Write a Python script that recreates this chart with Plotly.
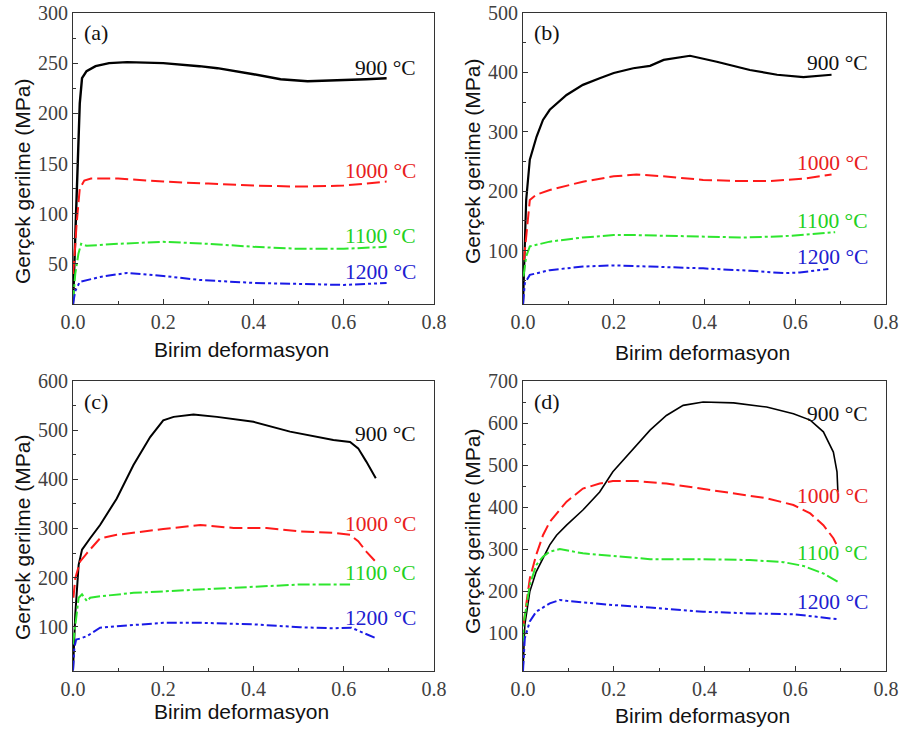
import plotly.graph_objects as go

W, H = 899, 729

# ---------------- data ----------------
# Panel (a)
a900_x = [0, 0.005, 0.01, 0.015, 0.02, 0.03, 0.05, 0.08, 0.12, 0.2, 0.28, 0.32, 0.4, 0.46, 0.52, 0.6, 0.65, 0.695]
a900_y = [10, 80, 150, 210, 235, 242, 247, 250, 251, 250, 247, 245, 239, 234, 232, 233, 234, 235]
a1000_x = [0, 0.003, 0.008, 0.015, 0.025, 0.04, 0.1, 0.2, 0.3, 0.4, 0.5, 0.6, 0.695]
a1000_y = [40, 55, 90, 125, 133, 135, 135, 132, 130, 128, 127, 128, 132]
a1100_x = [0, 0.005, 0.012, 0.018, 0.03, 0.1, 0.2, 0.3, 0.4, 0.5, 0.6, 0.695]
a1100_y = [12, 40, 60, 70, 68, 70, 72, 70, 67, 65, 65, 67]
a1200_x = [0, 0.005, 0.015, 0.06, 0.12, 0.2, 0.28, 0.4, 0.5, 0.6, 0.695]
a1200_y = [10, 23, 32, 37, 41, 38, 34, 31, 30, 29, 31]

# Panel (b)
b900_x = [0, 0.007, 0.015, 0.03, 0.044, 0.059, 0.096, 0.132, 0.169, 0.2, 0.243, 0.28, 0.31, 0.353, 0.368, 0.427, 0.5, 0.56, 0.618, 0.68]
b900_y = [10, 185, 253, 292, 320, 337, 362, 379, 390, 399, 407, 411, 421, 427, 428, 418, 404, 396, 392, 396]
b1000_x = [0.002, 0.011, 0.015, 0.029, 0.059, 0.132, 0.2, 0.25, 0.309, 0.397, 0.471, 0.545, 0.618, 0.68]
b1000_y = [84, 163, 185, 194, 202, 216, 225, 228, 225, 219, 217, 217, 221, 228]
b1100_x = [0.001, 0.007, 0.015, 0.059, 0.132, 0.2, 0.25, 0.397, 0.486, 0.574, 0.688]
b1100_y = [56, 90, 107, 115, 122, 126, 126, 124, 122, 124, 131]
b1200_x = [0, 0.004, 0.015, 0.059, 0.132, 0.2, 0.28, 0.397, 0.5, 0.574, 0.61, 0.673]
b1200_y = [10, 45, 59, 67, 73, 75, 73, 70, 66, 62, 63, 69]

# Panel (c)
c900_x = [0, 0.005, 0.0125, 0.02, 0.038, 0.06, 0.097, 0.134, 0.171, 0.2, 0.223, 0.267, 0.319, 0.4, 0.481, 0.547, 0.577, 0.614, 0.632, 0.65, 0.671]
c900_y = [11, 125, 226, 257, 280, 307, 361, 429, 486, 520, 527, 532, 527, 517, 497, 486, 480, 476, 463, 436, 402]
c1000_x = [0.001, 0.005, 0.016, 0.031, 0.06, 0.097, 0.2, 0.282, 0.356, 0.429, 0.503, 0.577, 0.614, 0.632, 0.65, 0.673]
c1000_y = [159, 199, 233, 250, 280, 287, 299, 307, 301, 301, 294, 291, 287, 274, 253, 230]
c1100_x = [0, 0.005, 0.0125, 0.02, 0.031, 0.038, 0.06, 0.134, 0.2, 0.282, 0.4, 0.503, 0.614]
c1100_y = [64, 105, 159, 166, 152, 159, 162, 169, 172, 176, 182, 186, 186]
c1200_x = [0, 0.003, 0.007, 0.016, 0.031, 0.06, 0.097, 0.2, 0.282, 0.4, 0.503, 0.577, 0.617, 0.636, 0.673]
c1200_y = [11, 57, 74, 76, 81, 98, 101, 108, 108, 105, 99, 97, 98, 91, 76]

# Panel (d)
d900_x = [0, 0.004, 0.015, 0.029, 0.044, 0.059, 0.074, 0.096, 0.132, 0.169, 0.198, 0.243, 0.28, 0.316, 0.353, 0.397, 0.464, 0.537, 0.596, 0.633, 0.662, 0.684, 0.692, 0.694]
d900_y = [10, 120, 199, 246, 278, 310, 333, 357, 393, 436, 484, 539, 583, 618, 642, 650, 648, 638, 622, 607, 579, 531, 484, 436]
d1000_x = [0.001, 0.015, 0.029, 0.044, 0.059, 0.096, 0.132, 0.169, 0.198, 0.250, 0.316, 0.397, 0.464, 0.537, 0.596, 0.633, 0.662, 0.684, 0.695]
d1000_y = [120, 230, 286, 333, 365, 413, 444, 456, 462, 462, 456, 443, 432, 421, 405, 385, 357, 326, 302]
d1100_x = [0, 0.001, 0.015, 0.029, 0.044, 0.059, 0.081, 0.096, 0.132, 0.198, 0.28, 0.397, 0.5, 0.574, 0.618, 0.662, 0.699]
d1100_y = [80, 120, 215, 262, 282, 294, 300, 297, 290, 284, 276, 276, 274, 269, 260, 242, 219]
d1200_x = [0, 0.004, 0.015, 0.029, 0.059, 0.081, 0.096, 0.132, 0.198, 0.28, 0.397, 0.5, 0.596, 0.647, 0.695]
d1200_y = [10, 88, 128, 151, 171, 179, 177, 173, 167, 161, 151, 147, 145, 139, 133]

temps = ["900 °C", "1000 °C", "1100 °C", "1200 °C"]
panel_letters = ["(a)", "(b)", "(c)", "(d)"]
y_max = [300, 500, 600, 700]
y_dtick = [50, 100, 100, 100]
label_y = [
    [245, 143, 78, 42],
    [416, 248, 149, 89],
    [493, 309, 209, 118],
    [622, 426, 290, 173],
]

panels = [
    [(a900_x, a900_y), (a1000_x, a1000_y), (a1100_x, a1100_y), (a1200_x, a1200_y)],
    [(b900_x, b900_y), (b1000_x, b1000_y), (b1100_x, b1100_y), (b1200_x, b1200_y)],
    [(c900_x, c900_y), (c1000_x, c1000_y), (c1100_x, c1100_y), (c1200_x, c1200_y)],
    [(d900_x, d900_y), (d1000_x, d1000_y), (d1100_x, d1100_y), (d1200_x, d1200_y)],
]

# ---------------- styles ----------------
line_colors = ["#000000", "#ff1a1a", "#2ee62e", "#1a1ae6"]
text_colors = ["#111111", "#e82020", "#22d022", "#2020d0"]
dashes = ["solid", "13px,5px", "12px,3px,3px,3px", "10px,3px,3px,3px,3px,3px"]
black_w = [2.4, 2.2, 2.0, 1.6]

# pixel boxes of plot areas: (left, right, top, bottom)
boxes = [(73, 434, 13, 304), (523, 886, 13, 304), (73, 434, 381, 671), (523, 886, 381, 671)]
xt_pos = [(242, 349), (702, 352), (242, 711), (702, 715)]
yt_pos = [(22, 182), (472, 162), (22, 538), (472, 532)]
letter_frac = [0.934, 0.934, 0.928, 0.928]

fig = go.Figure()
annotations = []
layout = {}

for i in range(4):
    sfx = "" if i == 0 else str(i + 1)
    xa, ya = "x" + sfx, "y" + sfx
    for j in range(4):
        xs, ys = panels[i][j]
        w = black_w[i] if j == 0 else 2.0
        fig.add_trace(go.Scatter(x=xs, y=ys, mode="lines", xaxis=xa, yaxis=ya,
                                 line=dict(color=line_colors[j], width=w, dash=dashes[j]),
                                 showlegend=False, hoverinfo="skip"))
        annotations.append(dict(x=0.765, y=label_y[i][j], xref=xa, yref=ya,
                                text=temps[j], showarrow=False, xanchor="right", yanchor="middle",
                                font=dict(family="Liberation Serif", size=21.5, color=text_colors[j])))
    l, r, t, b = boxes[i]
    axis_common = dict(showline=True, linecolor="#333333", linewidth=1, mirror=True,
                       ticks="inside", ticklen=5, tickwidth=1, tickcolor="#333333",
                       showgrid=False, zeroline=False, automargin=False,
                       tickfont=dict(family="Liberation Serif", size=20, color="#404040"))
    layout["xaxis" + sfx] = dict(axis_common, domain=[l / W, r / W], range=[0, 0.8],
                                 tick0=0, dtick=0.2, tickformat=".1f", anchor=ya,
                                 minor=dict(ticks="inside", ticklen=3, dtick=0.1, tickcolor="#333333"))
    layout["yaxis" + sfx] = dict(axis_common, domain=[1 - b / H, 1 - t / H], range=[10, y_max[i]],
                                 tick0=0, dtick=y_dtick[i], anchor=xa,
                                 minor=dict(ticks="inside", ticklen=3, dtick=y_dtick[i] / 2, tickcolor="#333333"))
    annotations.append(dict(x=0.02, y=(y_max[i] - 10) * letter_frac[i] + 10, xref=xa, yref=ya,
                            text=panel_letters[i], showarrow=False, xanchor="left", yanchor="middle",
                            font=dict(family="Liberation Serif", size=22, color="#111111")))
    annotations.append(dict(x=xt_pos[i][0] / W, y=1 - xt_pos[i][1] / H, xref="paper", yref="paper",
                            text="Birim deformasyon", showarrow=False, xanchor="center", yanchor="middle",
                            font=dict(family="Liberation Sans", size=21, color="#111111")))
    annotations.append(dict(x=yt_pos[i][0] / W, y=1 - yt_pos[i][1] / H, xref="paper", yref="paper",
                            text="Gerçek gerilme (MPa)", showarrow=False, textangle=-90,
                            xanchor="center", yanchor="middle",
                            font=dict(family="Liberation Sans", size=21, color="#111111")))

fig.update_layout(width=W, height=H, margin=dict(l=0, r=0, t=0, b=0, autoexpand=False),
                  paper_bgcolor="white", plot_bgcolor="white",
                  annotations=annotations, **layout)

fig.write_html("out.html")
